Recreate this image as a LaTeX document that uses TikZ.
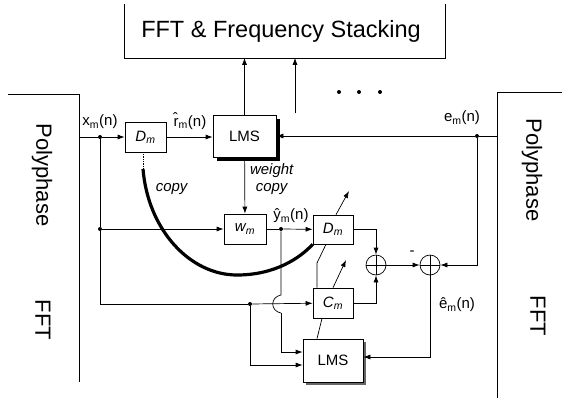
\documentclass[tikz,border=0pt]{standalone}
\usepackage{fontspec}
\setmainfont{Liberation Sans}
\usetikzlibrary{arrows.meta,shadows,calc}
\begin{document}
\begin{tikzpicture}[x=1pt,y=-1pt, line width=0.7pt, >={Latex[length=7pt,width=5pt]},
 blk/.style={draw, fill=white, minimum width=41pt, minimum height=30pt, inner sep=0pt, font=\fontsize{15}{15}\selectfont},
 lab/.style={font=\fontsize{15}{15}\selectfont, inner sep=0pt},
 dot/.style={circle, fill, inner sep=0pt, minimum size=4pt},
 sum/.style={circle, draw, fill=white, minimum size=20pt, inner sep=0pt,
   path picture={\draw (path picture bounding box.north) -- (path picture bounding box.south)
                       (path picture bounding box.west) -- (path picture bounding box.east);}},
 big/.style={font=\fontsize{22}{22}\selectfont, rotate=-90, inner sep=0pt},
 thick curve/.style={line width=3.2pt},
]
\useasboundingbox (0,0) rectangle (562,400);

% top block (three visible sides)
\node[minimum width=320pt, minimum height=53pt, inner sep=0pt] (fft) at (285,31) {};
\node[inner sep=0pt, font=\fontsize{23.5}{24}\selectfont] (ffttext) at (281,31) {FFT \& Frequency Stacking};
\draw (fft.north west) -- (fft.south west) -- (fft.south east) -- (fft.north east);

% dots
\fill (339,92) circle (2) (359,92) circle (2) (380,92) circle (2);

% polyphase FFT blocks
\coordinate (lbtop) at (8,94);
\coordinate (lbbot) at (79,382);
\draw (lbtop) -| (lbbot);
\node[big] (lpoly) at (42,175) {Polyphase};
\node[big] (lfft) at (43,320) {FFT};
\coordinate (rbtop) at (562,92);
\coordinate (rbbot) at (497,398);
\draw (rbtop) -| (rbbot);
\node[big] (rpoly) at (532,170) {Polyphase};
\node[big] (rfft) at (538,316) {FFT};

% blocks
\node[blk] (d1) at (145.5,137) {\textit{D\textsubscript{m}}};
\node[blk, minimum width=63pt, minimum height=42pt,
  drop shadow={shadow xshift=4pt, shadow yshift=-4pt, fill=black, opacity=1}] (lms1) at (244.5,136) {LMS};
\node[blk, minimum width=42pt] (w) at (245,229) {\textit{w\textsubscript{m}}};
\node[blk, minimum width=40pt, minimum height=29pt] (d2) at (333,229.5) {\textit{D\textsubscript{m}}};
\node[blk, minimum width=40pt] (cm) at (333,303) {\textit{C\textsubscript{m}}};
\node[blk, minimum width=60pt, minimum height=43pt,
  drop shadow={shadow xshift=3pt, shadow yshift=-3pt, fill=black!60, opacity=1}] (lms2) at (333,360.5) {LMS};
\node[sum] (s1) at (376,265) {};
\node[sum] (s2) at (430,265) {};

% junction dots
\node[dot] (xa) at (100,137) {};
\node[dot] (xb) at (100,229) {};
\node[dot] (xc) at (250,304) {};
\node[dot] (ya) at (281,229) {};
\node[dot] (ea) at (477,136) {};

% labels
\node[lab] (lx) at (100,122) {x\textsubscript{m}(n)};
\node[lab] (lr) at (190,121) {\^{r}\textsubscript{m}(n)};
\node[lab] (ly) at (291,216) {ŷ\textsubscript{m}(n)};
\node[lab] (le) at (462,118) {e\textsubscript{m}(n)};
\node[lab] (leh) at (457,305) {ê\textsubscript{m}(n)};
\node[lab] (lcopy) at (172,189) {\textit{copy}};
\node[lab] (lw1) at (272,171) {\textit{weight}};
\node[lab] (lw2) at (272,189) {\textit{copy}};
\node[lab] (lminus) at (412,253) {-};

% connectors
\coordinate (xin) at (79,137);
\draw (xin) -- (xa);
\draw[->] (xa) -- (d1);
\draw[->] (d1.east) -- (d1.east -| lms1.west);
\draw[->] (lms1) -- (lms1 |- fft.south);
\coordinate (dsrc) at (295,113);
\draw[->] (dsrc) -- (dsrc |- fft.south);
\coordinate (ein) at (497,136);
\draw (ein) -- (ea);
\draw[->] (ea) -- (ea -| lms1.east);
\draw[->] (ea) |- (s2.east);
\draw[->] (lms1) -- (w);
\draw (xa) -- (xb);
\draw[->] (xb) -- (w);
\draw (xb) |- (xc);
\draw[->] (xc) -- (cm);
\draw (w) -- (ya);
\draw[->] (ya) -- (d2);
\coordinate (hopa) at (281,295);
\coordinate (hopb) at (281,313);
\draw (ya) -- (hopa) .. controls (270,297) and (270,311) .. (hopb);
\draw[->] (hopb) |- ([yshift=8.5pt]lms2.west);
\draw[->] (xc) |- ([yshift=-4.5pt]lms2.west);
\draw[->] (s2.south) |- ([yshift=3.5pt]lms2.east);
\draw[->] (d2.east) -| (s1.north);
\draw[->] (cm.east) -| (s1.south);
\draw[->] (s1) -- (s2);
% adaptation lines
\draw ([xshift=-16pt]lms2.north) -- ([xshift=-11pt]cm.south);
\coordinate (cmtip) at (346,260);
\draw[->] (cm.north) -- (cmtip);
\coordinate (bend) at (317,263);
\draw ([xshift=-16pt]cm.north) -- (bend) -- ([xshift=-7pt]d2.south);
\coordinate (d2tip) at (349,191);
\draw[->] ([xshift=3pt]d2.north) -- (d2tip);

% copy curve
\coordinate (cs) at (143,169);
\draw[densely dotted] (d1.south -| cs) -- (cs);
\draw[thick curve] (cs) .. controls (148,230) and (190,275) .. (237,275)
   .. controls (275,275) and (300,258) .. (d2.south west);
\end{tikzpicture}
\end{document}
